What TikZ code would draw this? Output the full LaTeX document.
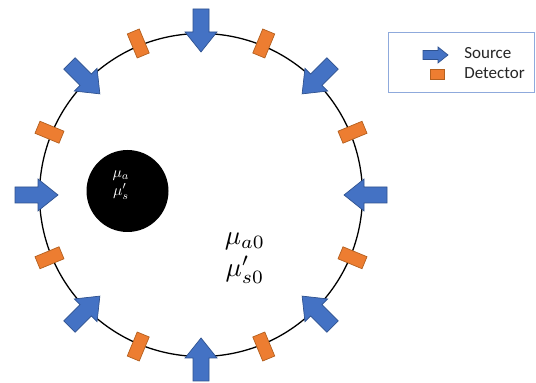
\documentclass[tikz,border=0pt]{standalone}
\usepackage{fontspec}
\setmainfont{Carlito}
\definecolor{srcblue}{HTML}{4472C4}
\definecolor{srcedge}{HTML}{2F528F}
\definecolor{detorange}{HTML}{ED7D31}
\definecolor{detedge}{HTML}{B4601F}
\definecolor{legendedge}{HTML}{8FAADC}
\begin{document}
\begin{tikzpicture}[x=1pt,y=1pt,
  ring/.style={draw=black, line width=1.3pt},
  srcshape/.style={fill=srcblue, draw=srcedge, line width=0.7pt, line join=miter},
  detbox/.style={rectangle, fill=detorange, draw=detedge, line width=0.7pt,
    minimum width=26pt, minimum height=13pt, inner sep=0pt},
  legdet/.style={rectangle, fill=detorange, draw=detedge, line width=0.7pt,
    minimum width=14pt, minimum height=10pt, inner sep=0pt},
  inclusion/.style={circle, fill=black, minimum size=82pt, inner sep=0pt},
  labelpair/.style={inner sep=0pt, align=center,
    font=\fontsize{10}{11.8}\selectfont},
  smalllabel/.style={labelpair, text=white, scale=1.55},
  biglabel/.style={labelpair, text=black, scale=2.7},
  legtext/.style={anchor=west, inner sep=0pt, text=black!85, scale=1.7},
  legbox/.style={draw=legendedge, line width=1pt, minimum width=146pt, minimum height=60pt, inner sep=0pt}]
\useasboundingbox (0,0) rectangle (536,383);
\fill[white] (0,0) rectangle (536,383);

\coordinate (ctr) at (201,188);

% boundary of the medium
\draw[ring] (ctr) circle[radius=161.5];

% eight sources pointing inward
\foreach \a [count=\i] in {90,45,0,-45,-90,-135,180,135} {
  \begin{scope}[shift={(201,188)}, rotate=\a]
    \draw[srcshape] (186,8) -- (163,8) -- (163,16) -- (143,0) -- (163,-16)
      -- (163,-8) -- (186,-8) -- cycle;
  \end{scope}
}

% eight detectors between the sources
\foreach \a [count=\i] in {112.5,67.5,22.5,-22.5,-67.5,-112.5,-157.5,157.5} {
  \node[detbox, rotate=\a] (det\i) at ([shift={(\a:164)}]ctr) {};
}

% absorbing/scattering inclusion
\node[inclusion] (incl) at (127.5,192) {};
\node[smalllabel] (incllabel) at (121,198) {$\mu_a$\\$\mu'_s$};

% background optical properties
\node[biglabel] (bglabel) at (245,125) {$\mu_{a0}$\\$\mu'_{s0}$};

% legend
\node[legbox] (legend) at (461,320) {};
\draw[srcshape] (423,332.5) -- (438,332.5) -- (438,336) -- (448,328)
  -- (438,320) -- (438,323.5) -- (423,323.5) -- cycle;
\node[legdet] (legdetector) at (437,309) {};
\node[legtext] (legsrc) at (464,330) {Source};
\node[legtext] (legdettext) at (464,310) {Detector};
\end{tikzpicture}
\end{document}
